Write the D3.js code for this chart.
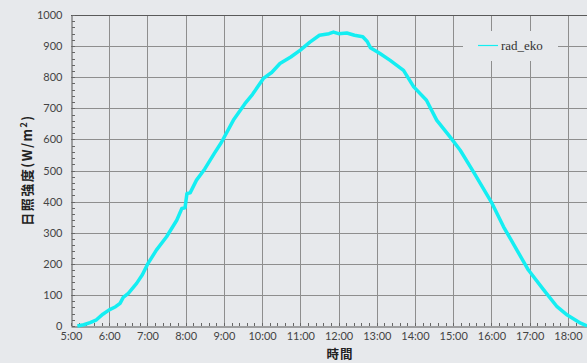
<!DOCTYPE html>
<html>
<head>
<meta charset="utf-8">
<script src="https://cdn.jsdelivr.net/npm/d3@7"></script>
<style>
  html, body { margin: 0; padding: 0; background: #e7e9ec; }
  svg { display: block; }
</style>
</head>
<body>
<div id="chart"></div>
<script>
// solar radiation over one day
const times = ['5:10','5:20','5:30','5:40','5:50','6:00','6:10','6:17','6:22','6:30','6:43','6:52',
  '7:00','7:14','7:30','7:46','7:54','7:59','8:02','8:07','8:17','8:30','8:45','8:56',
  '9:15','9:33','9:45','10:02','10:15','10:28','10:45','11:00','11:15','11:30','11:45','11:52',
  '12:00','12:13','12:25','12:38','12:45','12:50','13:05','13:21','13:42','13:58','14:18','14:34',
  '14:55','15:11','15:32','15:55','16:01','16:19','16:40','16:58','17:22','17:43','17:59','18:20','18:30'];
const radEko = [0,4,11,20,38,52,62,73,92,105,137,165,
  198,244,287,340,378,380,426,428,469,505,555,590,
  662,715,745,796,815,844,865,887,913,935,940,945,
  940,942,935,930,915,895,876,854,822,769,726,662,
  608,565,495,415,394,319,244,180,116,62,35,9,0];
const xTicks = ['5:00','6:00','7:00','8:00','9:00','10:00','11:00','12:00','13:00','14:00','15:00','16:00','17:00','18:00'];
const yTicks = [0,100,200,300,400,500,600,700,800,900,1000];

const width = 587, height = 363;
const toHours = s => { const p = s.split(':'); return +p[0] + (+p[1]) / 60; };

const x = d3.scaleLinear().domain([5, 18.5]).range([71, 587]);
const y = d3.scaleLinear().domain([0, 1000]).range([326, 15]);

const svg = d3.select('#chart').append('svg')
  .attr('width', width)
  .attr('height', height);

svg.append('rect').attr('width', width).attr('height', height).attr('fill', '#e7e9ec');

// grid
const grid = svg.append('g').attr('stroke', '#8e8e8e').attr('stroke-width', 1);
grid.selectAll('.gx').data(xTicks.slice(1))
  .enter().append('line')
  .attr('x1', d => Math.round(x(toHours(d))) + 0.5).attr('x2', d => Math.round(x(toHours(d))) + 0.5)
  .attr('y1', y(1000)).attr('y2', y(0));
grid.selectAll('.gy').data(yTicks.slice(1))
  .enter().append('line')
  .attr('x1', x(5)).attr('x2', width)
  .attr('y1', d => Math.round(y(d)) + 0.5).attr('y2', d => Math.round(y(d)) + 0.5)
  .attr('stroke', d => d === 1000 ? '#5a5a5a' : '#8e8e8e');

// axes
const yAxis = d3.axisLeft(y).tickValues(yTicks).tickFormat(d3.format('d')).tickSize(0).tickPadding(9);
const xAxis = d3.axisBottom(x).tickValues(xTicks.map(toHours))
  .tickFormat((d, i) => xTicks[i]).tickSize(0).tickPadding(6);

const gy = svg.append('g').attr('transform', 'translate(71.5,0)').call(yAxis);
const gx = svg.append('g').attr('transform', 'translate(0,326.5)').call(xAxis);
[gy, gx].forEach(g => {
  g.select('.domain').attr('stroke', '#555');
  g.selectAll('text').attr('fill', '#444').style('font-family', 'Lato, "Open Sans", sans-serif').style('font-size', '11px');
});

// minor ticks (inside)
const minorY = d3.range(0, 1001, 20);
svg.append('g').selectAll('line').data(minorY).enter().append('line')
  .attr('x1', 72).attr('x2', 75)
  .attr('y1', d => Math.round(y(d)) + 0.5).attr('y2', d => Math.round(y(d)) + 0.5)
  .attr('stroke', '#666');
const minorX = d3.range(5, 18.5, 0.2);
svg.append('g').selectAll('line').data(minorX).enter().append('line')
  .attr('x1', d => Math.round(x(d)) + 0.5).attr('x2', d => Math.round(x(d)) + 0.5)
  .attr('y1', 323).attr('y2', 326)
  .attr('stroke', '#666');

// series
const line = d3.line()
  .x((d, i) => x(toHours(times[i])))
  .y(d => y(d));
svg.append('path')
  .datum(radEko)
  .attr('d', line)
  .attr('fill', 'none')
  .attr('stroke', '#14eef2')
  .attr('stroke-width', 3.5)
  .attr('stroke-linejoin', 'round');

// legend
const lg = svg.append('g');
lg.append('rect').attr('x', 463).attr('y', 31).attr('width', 95).attr('height', 30).attr('fill', '#e7e9ec');
lg.append('line').attr('x1', 478).attr('x2', 498).attr('y1', 45.5).attr('y2', 45.5)
  .attr('stroke', '#14eef2').attr('stroke-width', 1.2);
lg.append('text').attr('x', 501).attr('y', 50)
  .style('font-family', '"Liberation Serif", serif').style('font-size', '13px')
  .attr('fill', '#333').text('rad_eko');

// axis titles
svg.append('text')
  .attr('transform', 'translate(32,170) rotate(-90)')
  .attr('text-anchor', 'middle')
  .style('font-family', '"Noto Sans CJK TC", serif').style('font-weight', 'bold').style('font-size', '13px')
  .style('letter-spacing', '1.5px')
  .attr('fill', '#222')
  .html('日照強度(W/m<tspan dy="-5" font-size="9">2</tspan><tspan dy="5">)</tspan>');
svg.append('text')
  .attr('x', 340).attr('y', 359)
  .attr('text-anchor', 'middle')
  .style('font-family', '"Noto Sans CJK TC", serif').style('font-weight', 'bold').style('font-size', '12.5px')
  .style('letter-spacing', '1px')
  .attr('fill', '#222')
  .text('時間');
</script>
</body>
</html>
